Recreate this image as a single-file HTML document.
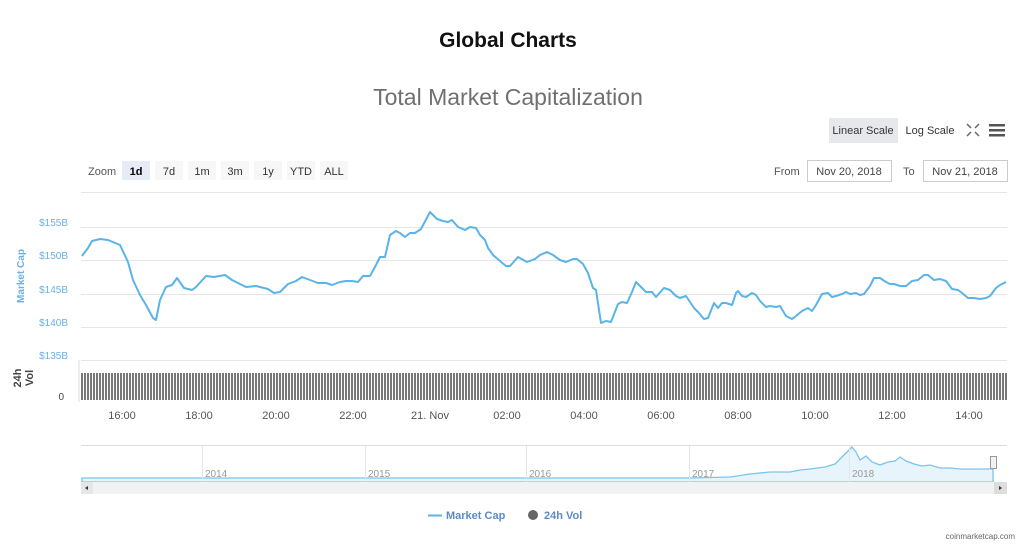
<!DOCTYPE html>
<html><head><meta charset="utf-8"><style>
html,body{margin:0;padding:0;background:#fff;width:1024px;height:549px;overflow:hidden;font-family:"Liberation Sans",sans-serif}
</style></head><body>
<svg width="1024" height="549" viewBox="0 0 1024 549" xmlns="http://www.w3.org/2000/svg" font-family="Liberation Sans, sans-serif">
<defs>
<pattern id="vb" x="81" y="0" width="3" height="549" patternUnits="userSpaceOnUse"><rect x="0" y="0" width="2" height="549" fill="#777"/></pattern>
</defs>
<text x="508" y="47" text-anchor="middle" font-size="21" font-weight="bold" fill="#111">Global Charts</text>
<text x="508" y="105" text-anchor="middle" font-size="23" fill="#707070">Total Market Capitalization</text>
<rect x="829" y="118" width="69" height="25" fill="#e6e8ec"/>
<text x="863" y="134" text-anchor="middle" font-size="11" fill="#333">Linear Scale</text>
<text x="930" y="134" text-anchor="middle" font-size="11" fill="#333">Log Scale</text>
<g stroke="#666" stroke-width="1.5" fill="none"><path d="M967 124l4 4M979 124l-4 4M967 136l4-4M979 136l-4-4"/></g>
<g fill="#555"><rect x="989" y="124" width="16" height="2.5"/><rect x="989" y="129" width="16" height="2.5"/><rect x="989" y="134" width="16" height="2.5"/></g>
<text x="88" y="175" font-size="11" fill="#555">Zoom</text>
<rect x="122" y="161" width="28" height="19" fill="#e6ebf5"/>
<text x="136" y="175" text-anchor="middle" font-size="11" font-weight="bold" fill="#000">1d</text>
<g fill="#f7f7f7"><rect x="155" y="161" width="28" height="19"/><rect x="188" y="161" width="28" height="19"/><rect x="221" y="161" width="28" height="19"/><rect x="254" y="161" width="28" height="19"/><rect x="287" y="161" width="28" height="19"/><rect x="320" y="161" width="28" height="19"/></g>
<g font-size="11" fill="#333" text-anchor="middle"><text x="169" y="175">7d</text><text x="202" y="175">1m</text><text x="235" y="175">3m</text><text x="268" y="175">1y</text><text x="301" y="175">YTD</text><text x="334" y="175">ALL</text></g>
<text x="774" y="175" font-size="11" fill="#555">From</text>
<rect x="807.5" y="160.5" width="84" height="21" fill="#fff" stroke="#ccc"/>
<text x="849" y="175" text-anchor="middle" font-size="11" fill="#444">Nov 20, 2018</text>
<text x="903" y="175" font-size="11" fill="#555">To</text>
<rect x="923.5" y="160.5" width="84" height="21" fill="#fff" stroke="#ccc"/>
<text x="965" y="175" text-anchor="middle" font-size="11" fill="#444">Nov 21, 2018</text>
<g stroke="#e6e6e6" stroke-width="1"><line x1="81" x2="1007" y1="192.5" y2="192.5"/><line x1="81" x2="1007" y1="227.5" y2="227.5"/><line x1="81" x2="1007" y1="260.5" y2="260.5"/><line x1="81" x2="1007" y1="294.5" y2="294.5"/><line x1="81" x2="1007" y1="327.5" y2="327.5"/><line x1="81" x2="1007" y1="360.5" y2="360.5"/></g>
<g font-size="10" fill="#6ab0e6" text-anchor="end"><text x="68" y="226">$155B</text><text x="68" y="259">$150B</text><text x="68" y="293">$145B</text><text x="68" y="326">$140B</text><text x="68" y="359">$135B</text></g>
<text transform="translate(24,276) rotate(-90)" text-anchor="middle" font-size="10" font-weight="bold" fill="#6ab0e6">Market Cap</text>
<text transform="translate(21,378) rotate(-90)" text-anchor="middle" font-size="11" font-weight="bold" fill="#444">24h</text>
<text transform="translate(33,378) rotate(-90)" text-anchor="middle" font-size="11" font-weight="bold" fill="#444">Vol</text>
<text x="64" y="400" text-anchor="end" font-size="10" fill="#444">0</text>
<rect x="81" y="373" width="926" height="27" fill="url(#vb)"/>
<line x1="79" x2="79" y1="360" y2="402" stroke="#ddd"/>
<path fill="none" stroke="#5ab4e8" stroke-width="2" stroke-linejoin="round" d="M82,256 L88,248 92,241 100,239 108,240 120,245 128,262 133,280 140,295 146,305 153,318 156,320 160,300 166,287 172,285 177,278 184,288 192,290 196,287 206,276 214,277 225,275 232,280 240,284 246,287 256,286 268,289 274,293 280,292 288,284 296,281 302,277 310,280 318,283 326,283 332,285 340,282 346,281 352,281 358,282 363,276 370,276 376,265 380,257 385,257 390,235 396,231 400,233 405,237 410,233 415,233 421,229 430,212 437,219 443,221 448,222 452,220 458,227 465,230 470,227 476,228 480,235 485,240 488,248 493,255 500,261 506,266 510,266 518,257 527,262 535,259 540,255 547,252 553,255 560,260 566,262 573,259 577,259 583,264 588,273 593,288 596,290 601,323 606,321 611,322 618,304 622,302 627,303 632,292 636,282 642,288 646,292 652,292 656,297 664,288 670,290 676,296 680,298 686,296 690,302 694,308 698,312 704,319 708,318 712,308 714,303 718,308 722,303 726,303 732,305 736,293 738,291 742,296 746,297 752,293 756,295 760,301 766,307 770,306 776,307 780,306 786,316 792,319 796,316 802,311 808,308 812,311 816,305 822,294 828,293 832,297 836,296 842,294 846,292 850,294 856,293 860,295 864,294 870,286 874,278 880,278 886,282 890,284 894,284 900,286 906,286 912,281 918,280 924,275 928,275 934,280 940,279 946,281 952,289 958,290 962,293 968,298 974,298 980,299 986,298 990,296 996,288 1000,285 1006,282"/>
<g font-size="11" fill="#555" text-anchor="middle"><text x="122" y="419">16:00</text><text x="199" y="419">18:00</text><text x="276" y="419">20:00</text><text x="353" y="419">22:00</text><text x="430" y="419">21. Nov</text><text x="507" y="419">02:00</text><text x="584" y="419">04:00</text><text x="661" y="419">06:00</text><text x="738" y="419">08:00</text><text x="815" y="419">10:00</text><text x="892" y="419">12:00</text><text x="969" y="419">14:00</text></g>
<line x1="81" x2="1007" y1="445.5" y2="445.5" stroke="#ddd"/>
<path fill="#e8f4fc" stroke="#7cc4ee" stroke-width="1.3" d="M82,478 L200,478 L690,478 L730,477 L750,474 L770,472 L790,472 L800,470 L810,469 L825,467 L835,464 L843,456 L848,451 L852,447 L856,452 L860,460 L866,456 L872,462 L880,465 L888,462 L895,461 L900,457 L906,461 L914,464 L922,466 L930,465 L940,468 L950,468 L960,469 L975,469 L993,469 L993,482 L82,482 Z"/>
<g stroke="#e6e6e6"><line x1="202.5" x2="202.5" y1="446" y2="482"/><line x1="365.5" x2="365.5" y1="446" y2="482"/><line x1="526.5" x2="526.5" y1="446" y2="482"/><line x1="689.5" x2="689.5" y1="446" y2="482"/><line x1="849.5" x2="849.5" y1="446" y2="482"/></g>
<g font-size="10" fill="#999"><text x="205" y="477">2014</text><text x="368" y="477">2015</text><text x="529" y="477">2016</text><text x="692" y="477">2017</text><text x="852" y="477">2018</text></g>
<rect x="990.5" y="456.5" width="6" height="12" fill="#f2f2f2" stroke="#999"/>
<rect x="81" y="482" width="926" height="12" fill="#f2f2f2"/>
<rect x="81" y="482" width="12" height="12" fill="#e6e6e6"/>
<rect x="994" y="482" width="13" height="12" fill="#ddd"/>
<path d="M88,486 l-3,2 3,2z M999,486 l3,2 -3,2z" fill="#333"/>
<line x1="428" x2="442" y1="515.5" y2="515.5" stroke="#5ab4e8" stroke-width="2"/>
<text x="446" y="519" font-size="11" font-weight="bold" fill="#5b8ac6">Market Cap</text>
<circle cx="533" cy="515" r="5" fill="#666"/>
<text x="544" y="519" font-size="11" font-weight="bold" fill="#5b8ac6">24h Vol</text>
<text x="1015" y="539" text-anchor="end" font-size="8" fill="#666">coinmarketcap.com</text>
</svg>
</body></html>
